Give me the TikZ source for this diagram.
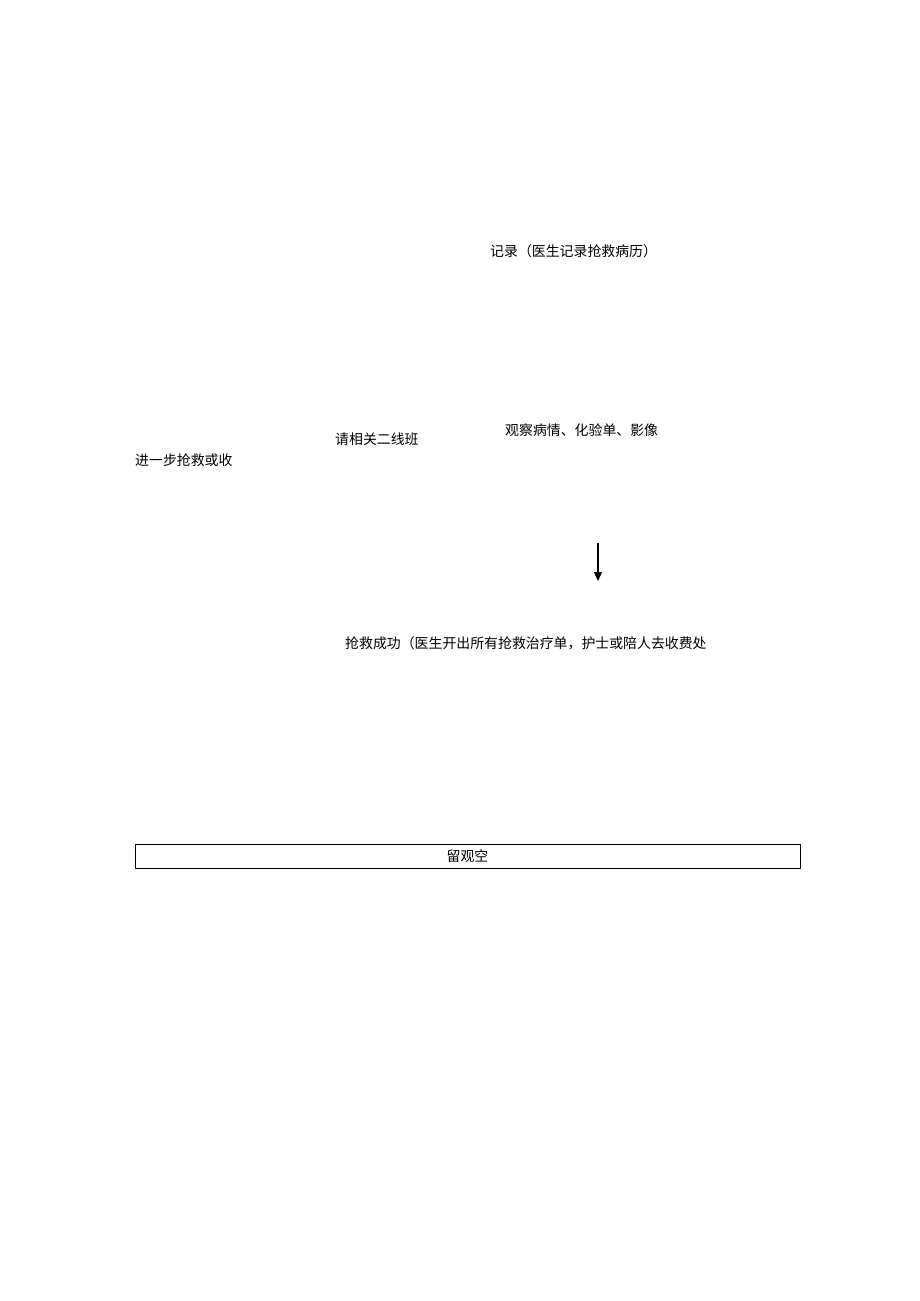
\documentclass[tikz,border=0pt]{standalone}
\usepackage{fontspec}
\setmainfont{Noto Sans CJK SC}
\usetikzlibrary{arrows.meta}
\begin{document}
\begin{tikzpicture}[x=1pt,y=-1pt,
  lbl/.style={anchor=west,inner sep=0pt,font=\fontsize{13.9pt}{16pt}\selectfont},
  boxnode/.style={draw,line width=0.6pt,minimum width=665pt,minimum height=24pt,inner sep=0pt,font=\fontsize{13.9pt}{16pt}\selectfont},
  arr/.style={-{Triangle[length=9pt,width=8pt]},line width=1.2pt}]
\useasboundingbox (0,0) rectangle (920,1301);
\node[lbl] (rec) at (490,251) {记录（医生记录抢救病历）};
\node[lbl] (ask) at (335,439) {请相关二线班};
\node[lbl] (obs) at (505,430) {观察病情、化验单、影像};
\node[lbl] (fur) at (135,460) {进一步抢救或收};
\node[lbl] (suc) at (345,643) {抢救成功（医生开出所有抢救治疗单，护士或陪人去收费处};
\coordinate (a1) at (598,543);
\coordinate (a2) at (598,581);
\draw[arr] (a1) -- (a2);
\node[boxnode] (obsbox) at (467.5,856) {留观空};
\end{tikzpicture}
\end{document}
